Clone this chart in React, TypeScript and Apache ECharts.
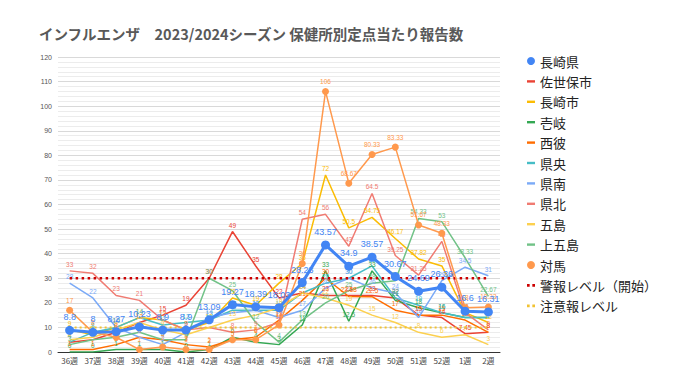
import React, { useEffect, useRef } from "react";
import * as echarts from "echarts";

const weeks = ["36週","37週","38週","39週","40週","41週","42週","43週","44週","45週","46週","47週","48週","49週","50週","51週","52週","1週","2週"];

const nagasakiKen = [8.8, 8, 8.27, 10.23, 8.9, 8.9, 13.09, 19.27, 18.39, 18.03, 28.23, 43.57, 34.9, 38.57, 30.67, 24.69, 26.36, 16.6, 16.31];
const sasebo = [4, 5, 8, 12, 15, 19, 30, 49, 35, 22, 24, 23, 23, 23, 22, 15, 14, 7.45, 8];
const nagasakiShi = [9, 7, 10, 14, 13, 9, 12, 22, 19, 28, 36, 72, 50.5, 54.75, 46.17, 37.82, 35, 16, 12];
const iki = [0, 0, 1, 1, 1, 0, 1, 6, 4, 3, 11, 33, 12.5, 33, 21, 18, 16, 14, 14];
const saihi = [1, 1, 3, 6, 5, 3, 2, 5, 6, 13, 21, 30, 22.58, 22.5, 17, 15, 15, 13, 8];
const kenou = [4, 8, 10, 14, 11, 12, 13, 17, 17, 17, 24, 28, 30, 35, 22, 19, 16, 14, 14];
const kennan = [28, 22, 10, 6, 3, 8, 14, 16, 17, 14, 17, 26, 30, 26, 24, 14, 29, 34.5, 31];
const kenpoku = [33, 32, 23, 21, 13, 9, 10, 8, 9, 12, 54, 56, 43, 64.5, 39.25, 31.25, 45, 16, 9];
const goto = [5, 6, 9, 12, 9, 7, 10, 13, 15, 18, 24, 22, 19, 15, 12, 8, 6, 7, 3];
const kamiGoto = [3, 5, 6, 8, 5, 5, 30, 25, 12, 4, 13, 20, 25, 28, 29, 54.33, 53, 38.33, 22.67];
const tsushima = [17, 8, 6, 1, 2, 1, 1, 5, 5, 11, 36, 106, 68.67, 80.33, 83.33, 51.67, 48.33, 18, 18.33];
const alarmLevel = weeks.map(() => 30);
const cautionLevel = weeks.map(() => 10);

const yTicks = { min: 0, max: 120, interval: 10 };

const barIcon = "path://M0,0h8v2.4h-8z";
const dotIcon = "path://M0,0h2.4v2.4h-2.4zM4.8,0h2.4v2.4h-2.4z";

export default function App() {
  const ref = useRef<HTMLDivElement>(null);
  useEffect(() => {
    if (!ref.current) return;
    const chart = echarts.init(ref.current, null, { renderer: "svg" });
    const plain = (name: string, data: number[], color: string) => ({
      name,
      type: "line",
      data,
      symbol: "circle",
      symbolSize: 0,
      showSymbol: true,
      lineStyle: { color, width: 1.5 },
      itemStyle: { color },
      label: { show: true, position: "top", fontSize: 6.5, color, distance: 3 },
      z: 2,
    });
    const option: any = {
      animation: false,
      backgroundColor: "#ffffff",
      title: {
        text: "インフルエンザ　2023/2024シーズン 保健所別定点当たり報告数",
        left: 34,
        top: 21,
        textStyle: { fontSize: 14.5, fontWeight: "bold", color: "#595959", fontFamily: "Noto Sans CJK JP" },
      },
      grid: { left: 58, right: 180, top: 57, bottom: 30, containLabel: false },
      legend: {
        orient: "vertical",
        left: 522,
        top: 49,
        itemWidth: 8,
        itemHeight: 8,
        itemGap: 6.4,
        symbolKeepAspect: true,
        textStyle: { fontSize: 13, color: "#222", fontFamily: "Noto Sans CJK JP", lineHeight: 14 },
        data: [
          { name: "長崎県", icon: "circle" },
          { name: "佐世保市", icon: barIcon },
          { name: "長崎市", icon: barIcon },
          { name: "壱岐", icon: barIcon },
          { name: "西彼", icon: barIcon },
          { name: "県央", icon: barIcon },
          { name: "県南", icon: barIcon },
          { name: "県北", icon: barIcon },
          { name: "五島", icon: barIcon },
          { name: "上五島", icon: barIcon },
          { name: "対馬", icon: "circle" },
          { name: "警報レベル（開始）", icon: dotIcon },
          { name: "注意報レベル", icon: dotIcon },
        ],
      },
      xAxis: {
        type: "category",
        data: weeks,
        boundaryGap: true,
        axisLine: { lineStyle: { color: "#333", width: 1 } },
        axisTick: { show: false },
        axisLabel: { fontSize: 8, color: "#444", margin: 4, fontFamily: "Noto Sans CJK JP" },
      },
      yAxis: {
        type: "value",
        min: yTicks.min,
        max: yTicks.max,
        interval: yTicks.interval,
        axisLine: { show: false },
        axisTick: { show: false },
        axisLabel: { fontSize: 7, color: "#555", margin: 6 },
        splitLine: { lineStyle: { color: "#d9d9d9", width: 1 } },
        minorTick: { show: false, splitNumber: 5 },
        minorSplitLine: { show: true, lineStyle: { color: "#ececec", width: 1 } },
      },
      series: [
        {
          name: "長崎県",
          type: "line",
          data: nagasakiKen,
          symbol: "circle",
          symbolSize: 9,
          lineStyle: { color: "#4285F4", width: 3 },
          itemStyle: { color: "#4285F4" },
          label: { show: true, position: "top", fontSize: 9, color: "#4285F4", distance: 4 },
          z: 10,
        },
        plain("佐世保市", sasebo, "#EA4335"),
        plain("長崎市", nagasakiShi, "#FBBC04"),
        plain("壱岐", iki, "#34A853"),
        plain("西彼", saihi, "#FF6D01"),
        plain("県央", kenou, "#46BDC6"),
        plain("県南", kennan, "#7BAAF7"),
        plain("県北", kenpoku, "#F07B72"),
        plain("五島", goto, "#FCD04F"),
        plain("上五島", kamiGoto, "#71C287"),
        {
          name: "対馬",
          type: "line",
          data: tsushima,
          symbol: "circle",
          symbolSize: 7,
          lineStyle: { color: "#FF994D", width: 1.5 },
          itemStyle: { color: "#FF994D" },
          label: { show: true, position: "top", fontSize: 6.5, color: "#FF994D", distance: 3 },
          z: 5,
        },
        {
          name: "警報レベル（開始）",
          type: "line",
          data: alarmLevel,
          symbol: "none",
          lineStyle: { color: "#CC0000", width: 2.5, type: [2.5, 3.5] },
          itemStyle: { color: "#CC0000" },
          z: 3,
        },
        {
          name: "注意報レベル",
          type: "line",
          data: cautionLevel,
          symbol: "none",
          lineStyle: { color: "#F1C232", width: 2, type: [2, 3] },
          itemStyle: { color: "#F1C232" },
          z: 3,
        },
      ],
    };
    chart.setOption(option);
    return () => chart.dispose();
  }, []);
  return <div ref={ref} style={{ width: 680, height: 382, position: "absolute", left: 0, top: 0 }} />;
}
